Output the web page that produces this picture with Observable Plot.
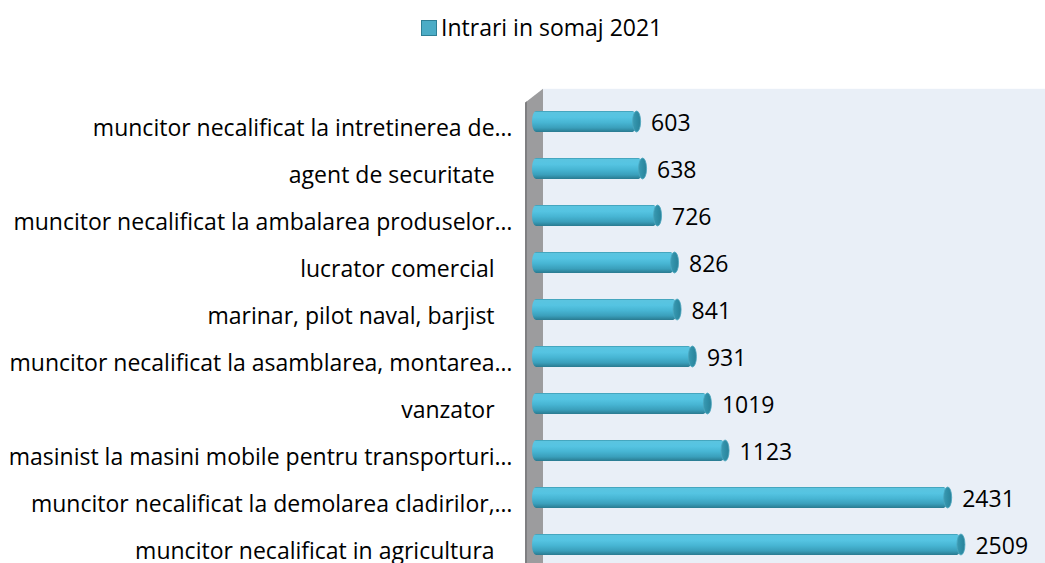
<!DOCTYPE html>
<html>
<head>
<meta charset="utf-8">
<script src="https://cdn.jsdelivr.net/npm/d3@7"></script>
<script src="https://cdn.jsdelivr.net/npm/@observablehq/plot@0.6"></script>
<style>
  html, body { margin: 0; padding: 0; overflow: hidden; background: #fff; }
  #legend { position: relative; height: 56px; width: 1045px; }
  #legend .sw { position: absolute; left: 421px; top: 20px; width: 14px; height: 14px; background: #4bacc6; border: 1px solid #2e7f95; }
  #legend .lt { position: absolute; left: 441px; top: 11px; font: 23px/32px "Open Sans"; color: #000; white-space: nowrap; }
  #chart svg { display: block; }
</style>
</head>
<body>
<div id="legend"><div class="sw"></div><div class="lt"></div></div>
<div id="chart"></div>
<script>
const seriesName = "Intrari in somaj 2021";
const categories = [
  "muncitor necalificat la intretinerea de…",
  "agent de securitate ",
  "muncitor necalificat la ambalarea produselor…",
  "lucrator comercial ",
  "marinar, pilot naval, barjist ",
  "muncitor necalificat la asamblarea, montarea…",
  "vanzator ",
  "masinist la masini mobile pentru transporturi…",
  "muncitor necalificat la demolarea cladirilor,…",
  "muncitor necalificat in agricultura "
];
const values = [603, 638, 726, 826, 841, 931, 1019, 1123, 2431, 2509];

const data = categories.map((c, i) => ({label: c, value: values[i]}));

document.querySelector("#legend .lt").textContent = seriesName;

const W = 1045, H = 520, ML = 534, MT = 39.8, FS = 23;

const chart = Plot.plot({
  width: W,
  height: H,
  marginLeft: ML,
  marginRight: 0.5,
  marginTop: MT,
  marginBottom: 6.3,
  style: {fontFamily: "Open Sans", fontSize: FS + "px", color: "#000", background: "transparent", overflow: "visible"},
  x: {domain: [0, 3000], axis: null},
  y: {domain: categories, paddingInner: 0.557, paddingOuter: 0.2785, align: 0.5, axis: null, label: null},
  marks: [
    Plot.axisY({
      label: null,
      tickSize: 0,
      tickPadding: 22,
      dy: 7,
      fontSize: FS,
      tickFormat: d => d.endsWith(" ") ? d.trimEnd() + "\u00a0\u00a0\u00a0" : d
    }),
    Plot.barX(data, {x: "value", y: "label", fill: "url(#cyl)", rx: 4, ry: 10.5, insetLeft: -2}),
    Plot.barX(data, {x1: "value", x2: "value", y: "label", insetLeft: -4, insetRight: -4, rx: 4, ry: 10.5, fill: "url(#cap)", stroke: "#4aa6be", strokeWidth: 0.8}),
    Plot.text(data, {x: "value", y: "label", text: d => String(d.value), dx: 14, dy: 2, textAnchor: "start", fontSize: FS, fill: "#000"})
  ]
});

const svg = d3.select(chart);
const x0 = chart.scale("x").apply(0);
const wallTop = MT - 7;

// background plot wall + left side wall, behind the marks
const g = svg.insert("g", ":first-child");
g.append("rect")
  .attr("x", x0 + 9).attr("y", wallTop)
  .attr("width", W - (x0 + 9)).attr("height", H - wallTop + 20)
  .attr("fill", "#e9eff7");
g.append("polygon")
  .attr("points", `${x0 - 9},${wallTop + 14} ${x0 + 9},${wallTop} ${x0 + 9},${H + 20} ${x0 - 9},${H + 20}`)
  .attr("fill", "#9c9c9e");
g.append("polygon")
  .attr("points", `${x0 - 9},${wallTop + 14} ${x0 - 7},${wallTop + 12.5} ${x0 - 7},${H + 20} ${x0 - 9},${H + 20}`)
  .attr("fill", "#7f7f81");

const defs = svg.insert("defs", ":first-child");
const cyl = defs.append("linearGradient").attr("id", "cyl").attr("x1", 0).attr("y1", 0).attr("x2", 0).attr("y2", 1);
[[0, "#3a97ae"], [0.07, "#5ac4e0"], [0.3, "#55c4e2"], [0.55, "#47b5d3"], [0.8, "#3a9fbb"], [0.93, "#2f879f"], [1, "#2a7a90"]]
  .forEach(([o, c]) => cyl.append("stop").attr("offset", o).attr("stop-color", c));
const cap = defs.append("linearGradient").attr("id", "cap").attr("x1", 0).attr("y1", 0).attr("x2", 1).attr("y2", 0);
[[0, "#3a9ab3"], [0.5, "#2f8ea6"], [1, "#2a8199"]]
  .forEach(([o, c]) => cap.append("stop").attr("offset", o).attr("stop-color", c));

document.getElementById("chart").appendChild(chart);
</script>
</body>
</html>
